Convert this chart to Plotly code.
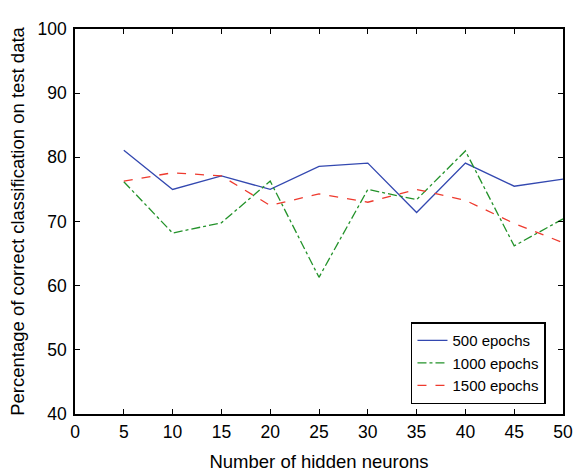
import plotly.graph_objects as go

neurons = [5, 10, 15, 20, 25, 30, 35, 40, 45, 50]
acc_500 = [81.1, 75.0, 77.1, 75.0, 78.6, 79.1, 71.4, 79.1, 75.5, 76.6]
acc_1000 = [76.2, 68.2, 69.8, 76.3, 61.3, 75.0, 73.4, 81.0, 66.2, 70.4]
acc_1500 = [76.3, 77.6, 77.1, 72.5, 74.3, 73.0, 75.0, 73.3, 69.7, 66.7]

x_ticks = [0, 5, 10, 15, 20, 25, 30, 35, 40, 45, 50]
y_ticks = [40, 50, 60, 70, 80, 90, 100]

FONT = "Liberation Sans, Arial, sans-serif"

fig = go.Figure()
fig.add_trace(go.Scatter(x=neurons, y=acc_500, mode="lines", name="500 epochs",
                         line=dict(color="#3348b0", width=1.3, dash="solid")))
fig.add_trace(go.Scatter(x=neurons, y=acc_1000, mode="lines", name="1000 epochs",
                         line=dict(color="#23922a", width=1.3, dash="dashdot")))
fig.add_trace(go.Scatter(x=neurons, y=acc_1500, mode="lines", name="1500 epochs",
                         line=dict(color="#ee3a2e", width=1.3, dash="dash")))

axis_common = dict(showgrid=False, zeroline=False, showline=True, linecolor="black",
                   linewidth=1.5, mirror="ticks", ticks="inside", ticklen=5,
                   tickcolor="black", tickwidth=1,
                   automargin=False,
                   tickfont=dict(family=FONT, size=17.5, color="black"))

fig.update_xaxes(range=[0, 50], tickvals=x_ticks, ticklabelstandoff=1,
                 title=dict(text="Number of hidden neurons", standoff=14,
                            font=dict(family=FONT, size=18.5, color="black")),
                 **axis_common)
fig.update_yaxes(range=[40, 100], tickvals=y_ticks, ticklabelstandoff=3,
                 title=dict(text="Percentage of correct classification on test data", standoff=8,
                            font=dict(family=FONT, size=18.5, color="black")),
                 **axis_common)

fig.update_layout(
    width=581, height=475,
    margin=dict(l=75, r=18, t=29, b=61),
    plot_bgcolor="white", paper_bgcolor="white",
    legend=dict(x=0.9645, y=0.025, xanchor="right", yanchor="bottom",
                bgcolor="white", bordercolor="black", borderwidth=1.8,
                font=dict(family=FONT, size=15, color="black"),
                itemwidth=30, tracegroupgap=0),
)

fig.write_html("out.html")
